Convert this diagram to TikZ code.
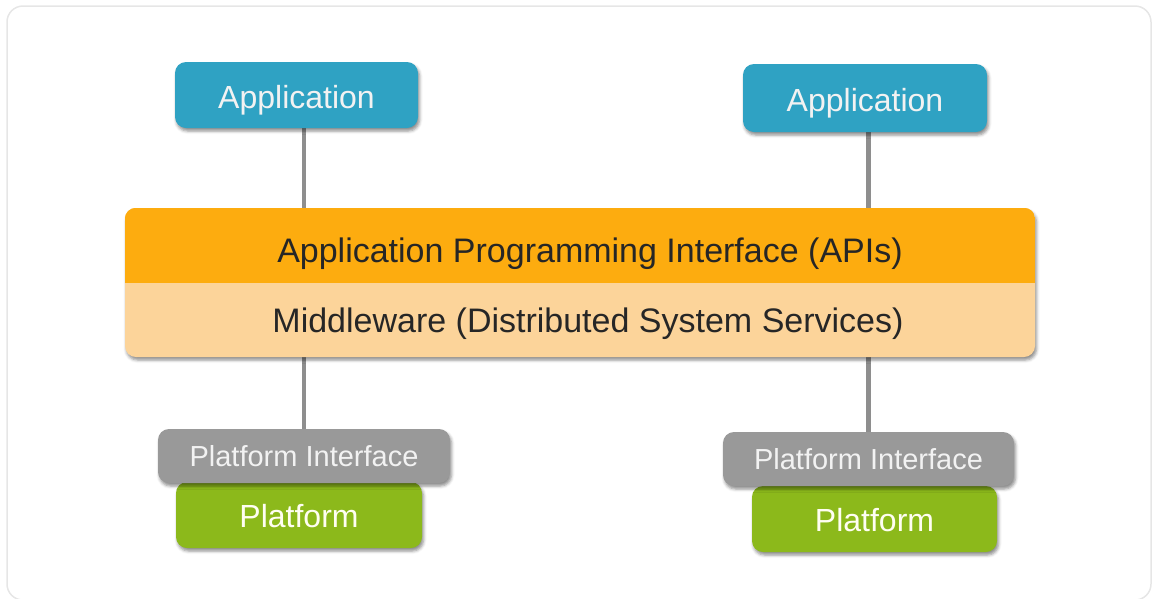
\documentclass[tikz,border=0pt]{standalone}
\usepackage{fontspec}
\setmainfont{Liberation Sans}
\usetikzlibrary{shadows.blur,backgrounds}
\definecolor{appblue}{HTML}{2FA2C3}
\definecolor{apiorange}{HTML}{FDAC0F}
\definecolor{mwcream}{HTML}{FCD49A}
\definecolor{pigray}{HTML}{999999}
\definecolor{plgreen}{HTML}{8CB91B}
\definecolor{linegray}{HTML}{8E8E8E}
\definecolor{framegray}{HTML}{E6E6E6}
\definecolor{textdark}{HTML}{262626}
\tikzset{
  shd/.style={blur shadow={shadow xshift=1.5pt, shadow yshift=-3pt, shadow blur radius=3pt, shadow opacity=45}},
  boxbase/.style={rectangle, rounded corners=11pt, inner sep=0pt, shd},
  appbox/.style={boxbase, fill=appblue, text=white!95!black, font=\fontsize{32}{36}\selectfont, text height=26pt, text depth=0pt},
  pibox/.style={boxbase, fill=pigray, text=white!95!black, font=\fontsize{29}{33}\selectfont},
  plbox/.style={boxbase, fill=plgreen, text=white!95!yellow, font=\fontsize{32}{36}\selectfont, text height=24pt, text depth=0pt},
  stackbox/.style={boxbase, fill=mwcream},
  layertext/.style={text=textdark, font=\fontsize{34}{38}\selectfont, inner sep=0pt},
  conn/.style={draw=linegray, line width=4.5pt}
}
\begin{document}
\begin{tikzpicture}[x=1pt,y=-1pt]
\useasboundingbox (0,0) rectangle (1157,598);
\draw[framegray, line width=1.5pt, rounded corners=16pt] (7,6) rectangle (1151,600);

% stack of layers
\node[stackbox, minimum width=910pt, minimum height=149pt] (stack) at (580,282.5) {};
\begin{scope}
  \clip[rounded corners=11pt] (stack.north west) rectangle (stack.south east);
  \fill[apiorange] (stack.north west) rectangle (1035,283);
\end{scope}
\node[layertext] (api) at (590,254) {Application Programming Interface (APIs)};
\node[layertext] (mw) at (588,324) {Middleware (Distributed System Services)};

% applications
\node[appbox, minimum width=243pt, minimum height=66pt] (app1) at (296.5,95) {Application};
\node[appbox, minimum width=244pt, minimum height=68pt] (app2) at (865,98) {Application};

% platforms
\node[plbox, minimum width=246pt, minimum height=66pt] (pl1) at (299,515) {Platform};
\node[plbox, minimum width=245pt, minimum height=66pt] (pl2) at (874.5,519) {Platform};
\node[pibox, minimum width=292pt, minimum height=54pt] (pi1) at (304,456) {Platform Interface};
\node[pibox, minimum width=291pt, minimum height=54pt] (pi2) at (868.5,459) {Platform Interface};

% connectors
\begin{scope}[on background layer]
  \draw[conn] (app1.south -| pi1.north) -- (stack.north -| pi1.north);
  \draw[conn] (stack.south -| pi1.north) -- (pi1.north);
  \draw[conn] (app2.south -| pi2.north) -- (stack.north -| pi2.north);
  \draw[conn] (stack.south -| pi2.north) -- (pi2.north);
\end{scope}
\end{tikzpicture}
\end{document}
